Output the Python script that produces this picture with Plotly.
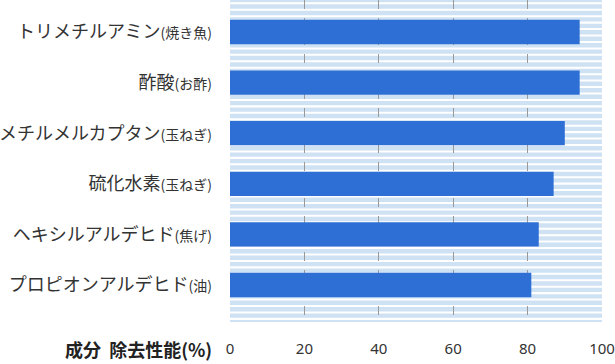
import plotly.graph_objects as go

# ---- data ----
components = ["トリメチルアミン", "酢酸", "メチルメルカプタン", "硫化水素", "ヘキシルアルデヒド", "プロピオンアルデヒド"]
sources = ["焼き魚", "お酢", "玉ねぎ", "玉ねぎ", "焦げ", "油"]
removal = [94, 94, 90, 87, 83, 81]
x_ticks = [0, 20, 40, 60, 80, 100]
axis_title = "成分  除去性能(%)"

CJK = "Noto Sans CJK JP"
BAR = "#2E6FD6"
STRIPE = "#CFE2F3"

idx = list(range(len(components)))
ticktext = [f"{c}<span style='font-size:14px'>({s})</span>" for c, s in zip(components, sources)]

fig = go.Figure(go.Bar(
    x=removal, y=idx, orientation="h",
    marker=dict(color=BAR, line=dict(width=0)),
    width=0.48, hoverinfo="x",
))

# striped background (decoration)
plot_h = 322.0
n = 50
period = plot_h / n
shapes = []
for k in range(n + 1):
    top = -2.1 + k * period
    bot = top + 4.4
    top = max(top, 0)
    bot = min(bot, plot_h)
    if bot <= top:
        continue
    shapes.append(dict(type="rect", xref="x", yref="paper", x0=0, x1=100,
                       y0=1 - bot / plot_h, y1=1 - top / plot_h,
                       fillcolor=STRIPE, line=dict(width=0), layer="below"))

fig.update_layout(
    width=615, height=364,
    margin=dict(l=230, r=13, t=0, b=42, autoexpand=False),
    plot_bgcolor="white", paper_bgcolor="white",
    showlegend=False, shapes=shapes,
    font=dict(family=CJK, color="#333"),
    annotations=[dict(text=f"<b>{axis_title}</b>", xref="paper", yref="paper",
                      x=-16 / 372, y=-27 / 322, xanchor="right", yanchor="middle",
                      showarrow=False, font=dict(size=18, color="#222", family=CJK))],
)
fig.update_xaxes(
    range=[0, 100], tickvals=x_ticks, showgrid=False, zeroline=False, showline=False,
    ticks="", tickfont=dict(size=15, color="#333", family="Noto Sans"),
    ticklabelstandoff=16,
    minor=dict(tickvals=[20, 40, 60, 80], showgrid=True, gridcolor="#999",
               griddash="dash", gridwidth=1, ticks=""),
    fixedrange=True,
)
fig.update_yaxes(
    range=[(plot_h - 32) / 50.6, -32 / 50.6], tickvals=idx, ticktext=ticktext,
    showgrid=False, zeroline=False, showline=False, ticks="",
    tickfont=dict(size=18, color="#333", family=CJK), ticklabelstandoff=17,
    automargin=False, fixedrange=True,
)

fig.write_html(
    "out.html",
    config={"displayModeBar": False},
    post_script="document.body.style.margin='0';document.body.style.overflow='hidden';",
)
